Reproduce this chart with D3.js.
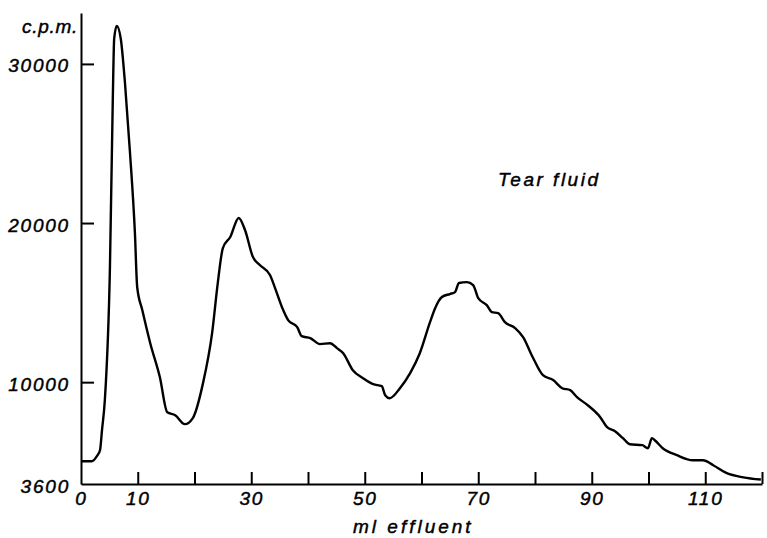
<!DOCTYPE html>
<html>
<head>
<meta charset="utf-8">
<script src="https://cdn.jsdelivr.net/npm/d3@7"></script>
<style>
  body { margin: 0; background: #fff; }
  text { font-family: "Liberation Sans", Arial, sans-serif; font-style: italic; fill: #000;
         stroke: #000; stroke-width: 0.45px; }
</style>
</head>
<body>
<svg width="767" height="538"></svg>
<script>
'use strict';

// elution profile (ml effluent vs c.p.m.)
const mlEffluent = [0, 1.9, 2.8, 3.35, 3.7, 4.2, 5.1, 5.6, 5.85, 6.3, 7.0, 7.75, 8.6, 9.5, 9.9,
  10.8, 12.2, 13.9, 15.2, 16.6, 18.3, 19.7, 21.5, 23.1, 24.1, 25.0, 26.3, 27.8, 28.9, 30.3,
  31.5, 33.3, 34.2, 35.4, 36.5, 38.1, 38.9, 40.4, 42.1, 43.9, 45.1, 46.2, 47.9, 49.7, 51.5,
  53.0, 53.6, 54.4, 56.2, 58.0, 59.7, 61.5, 62.4, 63.6, 65.0, 65.9, 66.6, 68.0, 69.1, 70.0,
  71.5, 72.4, 73.5, 74.7, 76.5, 77.9, 79.6, 81.4, 83.2, 84.8, 86.2, 87.4, 89.3, 91.5, 92.7,
  94.1, 95.5, 96.7, 98.9, 99.9, 100.6, 101.1, 102.5, 105.0, 107.8, 109.6, 111.4, 113.8, 116.7, 119.8];
const cpm = [5030, 5030, 5350, 5720, 6980, 8870, 17230, 27740, 31600, 32390, 31600, 28800, 24590, 19370, 15980,
  14530, 12450, 10310, 8110, 7920, 7360, 7740, 9940, 13080, 16230, 18430, 19120, 20320, 19560, 17860,
  17360, 16730, 15910, 14720, 13900, 13460, 12890, 12770, 12390, 12450, 12140, 11820, 10750, 10250, 9870,
  9750, 9180, 8990, 9620, 10570, 11820, 13770, 14650, 15350, 15540, 15660, 16230, 16290, 16100, 15280,
  14840, 14400, 14340, 13770, 13400, 12830, 11570, 10440, 10130, 9620, 9500, 9060, 8550, 7800, 7170,
  6920, 6480, 6100, 6040, 5850, 6480, 6350, 5850, 5410, 5090, 5090, 4780, 4280, 4020, 3880];

const xTicks = [0, 10, 20, 30, 40, 50, 60, 70, 80, 90, 100, 110, 120];
const xLabelled = [0, 10, 30, 50, 70, 90, 110];
const yTicks = [3600, 10000, 20000, 30000];

const svg = d3.select("svg");
const fontSize = 19;

const x = d3.scaleLinear().domain([0, 120]).range([81, 762]);
const y = d3.scaleLinear().domain([3600, 33200]).range([484, 13]);

const data = mlEffluent.map((d, i) => ({ml: d, v: cpm[i]}));

// y axis, ticks pointing inward
const yAxis = d3.axisLeft(y)
    .tickValues(yTicks)
    .tickSizeInner(-13)
    .tickSizeOuter(0)
    .tickPadding(11)
    .tickFormat(d3.format("d"));

const gy = svg.append("g")
    .attr("transform", "translate(" + x(0) + ",0)")
    .call(yAxis);
gy.attr("font-family", null).attr("font-size", null);
gy.select(".domain").attr("stroke-width", 2);
gy.selectAll(".tick line").attr("stroke-width", 2)
    .filter(d => d === 3600).remove();
gy.selectAll(".tick text")
    .attr("font-size", fontSize)
    .attr("letter-spacing", 1.8)
    .attr("dy", 8);

// x axis
const xAxis = d3.axisBottom(x)
    .tickValues(xTicks)
    .tickSizeInner(-12)
    .tickSizeOuter(0)
    .tickPadding(7.5)
    .tickFormat(d => xLabelled.includes(d) ? d : "");

const gx = svg.append("g")
    .attr("transform", "translate(0," + y(3600) + ")")
    .call(xAxis);
gx.attr("font-family", null).attr("font-size", null);
gx.select(".domain").attr("stroke-width", 2);
gx.selectAll(".tick line").attr("stroke-width", 2)
    .filter(d => d === 0).remove();
gx.selectAll(".tick text")
    .attr("font-size", fontSize)
    .attr("letter-spacing", 1.8);

// curve
const line = d3.line()
    .x(d => x(d.ml))
    .y(d => y(d.v))
    .curve(d3.curveMonotoneX);

svg.append("path")
    .datum(data)
    .attr("fill", "none")
    .attr("stroke", "#000")
    .attr("stroke-width", 2.4)
    .attr("stroke-linejoin", "round")
    .attr("d", line);

// labels
svg.append("text")
    .attr("x", 22).attr("y", 33)
    .attr("font-size", fontSize)
    .attr("letter-spacing", 0.7)
    .text("c.p.m.");

svg.append("text")
    .attr("x", 353).attr("y", 533)
    .attr("font-size", fontSize)
    .attr("letter-spacing", 3)
    .text("ml effluent");

svg.append("text")
    .attr("x", 498).attr("y", 186)
    .attr("font-size", fontSize)
    .attr("letter-spacing", 2.5)
    .text("Tear fluid");
</script>
</body>
</html>
